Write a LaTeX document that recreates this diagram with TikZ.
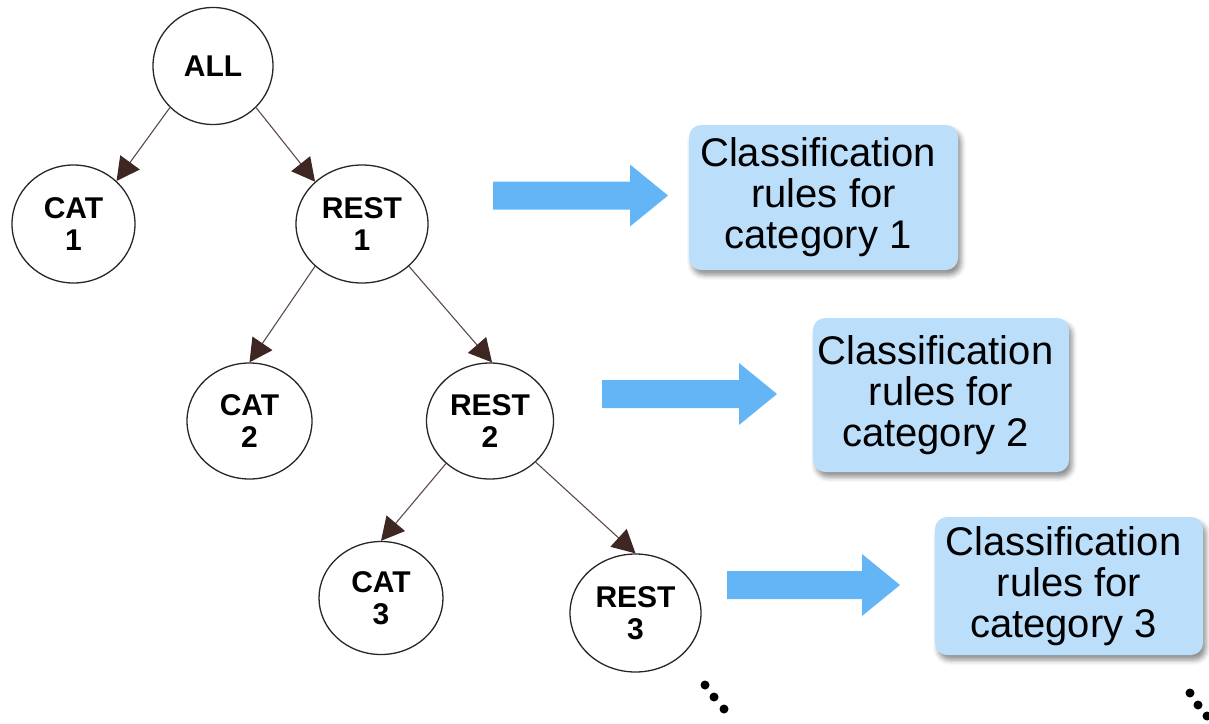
\documentclass[tikz,border=0pt]{standalone}
\usepackage{fontspec}
\setmainfont{Liberation Sans}
\usetikzlibrary{shapes.geometric,arrows.meta,shadows.blur}

\definecolor{edgecol}{HTML}{5D4A46}
\definecolor{headcol}{HTML}{3E2723}
\definecolor{boxfill}{HTML}{BBDEFB}
\definecolor{arrowfill}{HTML}{64B5F6}

\tikzset{
  setnode/.style={ellipse, draw=black!85, line width=1.3pt, fill=white,
    inner sep=0pt, align=center,
    font=\fontsize{30}{31.5}\selectfont\bfseries},
  split/.style={draw=edgecol, line width=1.1pt,
    -{Triangle[length=23pt,width=24pt,color=headcol]}},
  rulebox/.style={rounded corners=12pt, fill=boxfill, align=center,
    inner sep=0pt, font=\fontsize{40}{41}\selectfont,
    blur shadow={shadow xshift=3pt, shadow yshift=-5pt,
      shadow opacity=45, shadow blur radius=5pt}},
  flow/.style={fill=arrowfill},
  dot/.style={fill=black}
}

% block arrow: start x, centre y, end of shaft x, tip x
\newcommand\flowarrow[4]{%
  \fill[flow] (#1,#2-14) -- (#3,#2-14) -- (#3,#2-31) -- (#4,#2)
    -- (#3,#2+31) -- (#3,#2+14) -- (#1,#2+14) -- cycle;}
% three centred lines, set a little left of the box centre
\newcommand\rulelines[1]{%
  Classification\hspace*{11pt}\\rules for\hspace*{11pt}\\category #1\hspace*{11pt}}

\begin{document}
\begin{tikzpicture}[x=1pt, y=-1pt]
\useasboundingbox (0,0) rectangle (1209,723);

% the splitting tree
\node[setnode, minimum width=120pt, minimum height=117pt] (all)   at (213,66)    {ALL};
\node[setnode, minimum width=123pt, minimum height=118pt] (cat1)  at (73.5,224)  {CAT\\1};
\node[setnode, minimum width=132pt, minimum height=118pt] (rest1) at (362,224)   {REST\\1};
\node[setnode, minimum width=125pt, minimum height=116pt] (cat2)  at (249.5,421) {CAT\\2};
\node[setnode, minimum width=127pt, minimum height=116pt] (rest2) at (490,421)   {REST\\2};
\node[setnode, minimum width=124pt, minimum height=113pt] (cat3)  at (381,598)   {CAT\\3};
\node[setnode, minimum width=131pt, minimum height=118pt] (rest3) at (635.5,613) {REST\\3};

\draw[split] (all.224)   -- (cat1.45);
\draw[split] (all.316)   -- (rest1.138);
\draw[split] (rest1.222) -- (cat2.90);
\draw[split] (rest1.318) -- (rest2.88);
\draw[split] (rest2.224) -- (cat3.90);
\draw[split] (rest2.318) -- (rest3.90);

% rule boxes
\node[rulebox, minimum width=269pt, minimum height=145pt] (rules1) at (823.5,197.5) {\rulelines{1}};
\node[rulebox, minimum width=256pt, minimum height=154pt] (rules2) at (941,395)     {\rulelines{2}};
\node[rulebox, minimum width=268pt, minimum height=138pt] (rules3) at (1069,586)    {\rulelines{3}};

% block arrows towards the rule boxes
\flowarrow{493}{195.5}{630}{668}
\flowarrow{602}{394}{739}{777}
\flowarrow{727}{585}{862}{900}

% continuation dots
\fill[dot] (705,685) circle (4.5pt);
\fill[dot] (714,697) circle (4.5pt);
\fill[dot] (724,709) circle (4.5pt);
\fill[dot] (1190,693) circle (4.5pt);
\fill[dot] (1198,705) circle (4.5pt);
\fill[dot] (1207,716) circle (4.5pt);
\end{tikzpicture}
\end{document}
